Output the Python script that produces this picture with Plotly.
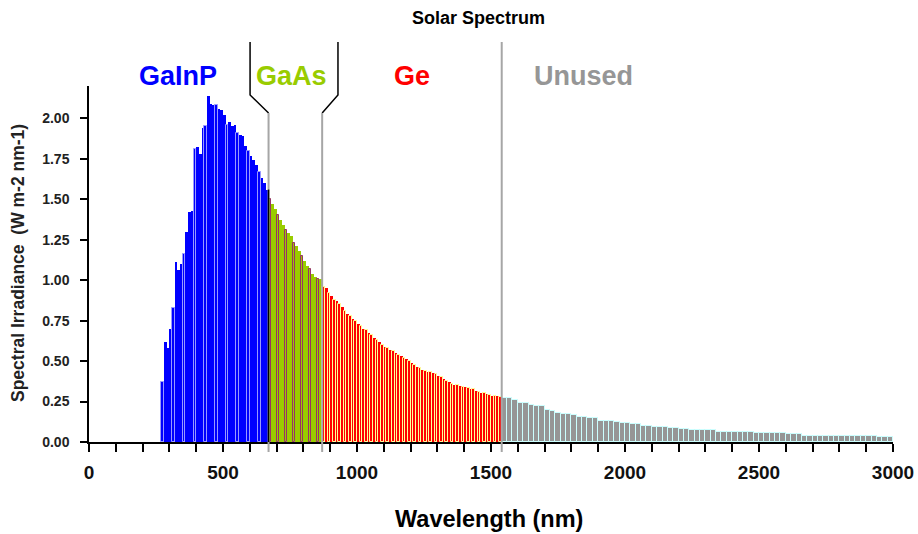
import plotly.graph_objects as go

# ---- data: bin start wavelength (nm) and spectral irradiance (W m-2 nm-1) ----
gainp_nm = list(range(270, 670, 10))
gainp_val = [0.37, 0.62, 0.58, 0.70, 0.83, 1.11, 1.06, 1.10, 1.16, 1.30,
             1.42, 1.43, 1.81, 1.82, 1.78, 1.94, 1.95, 2.14, 2.09, 2.08,
             2.08, 2.06, 2.05, 2.02, 1.96, 1.98, 1.95, 1.96, 1.91, 1.90,
             1.89, 1.83, 1.80, 1.77, 1.74, 1.71, 1.67, 1.63, 1.60, 1.56]

gaas_nm = list(range(670, 870, 10))
gaas_val = [1.50, 1.47, 1.44, 1.40, 1.37, 1.34, 1.31, 1.29, 1.27, 1.23,
            1.21, 1.18, 1.15, 1.12, 1.09, 1.07, 1.04, 1.02, 1.01, 1.01]

ge_nm = list(range(870, 1540, 10))
ge_val = [0.96, 0.95, 0.92, 0.90, 0.88, 0.87, 0.85, 0.835, 0.81, 0.79,
          0.78, 0.76, 0.745, 0.73, 0.715, 0.70, 0.69, 0.675, 0.66, 0.645,
          0.63, 0.615, 0.60, 0.59, 0.58, 0.57, 0.56, 0.55, 0.54, 0.53,
          0.52, 0.51, 0.50, 0.49, 0.475, 0.465, 0.455, 0.445, 0.44, 0.435,
          0.435, 0.425, 0.42, 0.41, 0.40, 0.39, 0.38, 0.37, 0.36, 0.355,
          0.35, 0.346, 0.343, 0.34, 0.335, 0.33, 0.325, 0.318, 0.31, 0.305,
          0.30, 0.296, 0.29, 0.284, 0.284, 0.284, 0.28]

unused_nm = list(range(1540, 3000, 20))
unused_val = [0.27, 0.27, 0.26, 0.24, 0.24, 0.23, 0.22, 0.22, 0.20, 0.19,
              0.18, 0.173, 0.173, 0.165, 0.156, 0.156, 0.146, 0.146, 0.13, 0.13,
              0.13, 0.125, 0.12, 0.12, 0.11, 0.11, 0.099, 0.099, 0.095, 0.095,
              0.095, 0.085, 0.085, 0.08, 0.08, 0.074, 0.074, 0.074, 0.074, 0.074,
              0.064, 0.064, 0.06, 0.06, 0.06, 0.06, 0.06, 0.054, 0.054, 0.054,
              0.054, 0.054, 0.054, 0.05, 0.05, 0.05, 0.04, 0.04, 0.04, 0.04,
              0.04, 0.04, 0.04, 0.04, 0.04, 0.04, 0.04, 0.04, 0.04, 0.04,
              0.028, 0.028, 0.028]

band_labels = ["GaInP", "GaAs", "Ge", "Unused"]
band_edges = [670, 870, 1540]   # cell cut-off wavelengths (nm)

x_ticks = [0, 500, 1000, 1500, 2000, 2500, 3000]
y_ticks = [0.0, 0.25, 0.5, 0.75, 1.0, 1.25, 1.5, 1.75, 2.0]

# ---- styling ----
FONT = "Liberation Sans, Arial, sans-serif"
bands = [
    (gainp_nm, gainp_val, 10, "#0000FF", "#9999FF", 4),
    (gaas_nm, gaas_val, 10, "#99CC00", "#993366", 3),
    (ge_nm, ge_val, 10, "#FF0000", "#FFFF99", 2),
    (unused_nm, unused_val, 20, "#969696", "#CCFFFF", 1),
]

fig = go.Figure()
for (nm, val, w, fill, edge, every), name in zip(bands, band_labels):
    lw = [1 if i % every == 0 else 0 for i in range(len(nm))]
    fig.add_trace(go.Bar(
        x=nm, y=val, width=w, offset=0, name=name,
        marker=dict(color=fill, line=dict(color=edge, width=lw)),
        showlegend=False, hoverinfo="x+y",
    ))

# plot-area geometry helpers (pixel -> paper)
L, R, T, B = 89, 25, 86, 92
W, H = 918, 534
pw, ph = W - L - R, H - T - B
def px(x):
    return (x - L) / pw
def py(y):
    return (H - B - y) / ph

shapes = []
black = dict(color="black", width=1.5)
grey = dict(color="#A6A6A6", width=2)
# left bracket (GaInP | GaAs)
shapes.append(dict(type="path", xref="x", yref="paper", layer="above",
                   path=f"M 601 {py(42)} L 601 {py(95)} L {band_edges[0]} {py(113)}",
                   line=black))
# right bracket (GaAs | Ge)
shapes.append(dict(type="path", xref="x", yref="paper", layer="above",
                   path=f"M 929 {py(42)} L 929 {py(95)} L {band_edges[1]} {py(113)}",
                   line=black))
for e, top in zip(band_edges, [113, 113, 42]):
    shapes.append(dict(type="line", xref="x", yref="paper", layer="above",
                       x0=e, x1=e, y0=py(top), y1=py(452), line=grey))
# black edge at GaInP/GaAs boundary inside the bars
shapes.append(dict(type="line", xref="x", yref="y", layer="above",
                   x0=band_edges[0], x1=band_edges[0], y0=0,
                   y1=max(gainp_val[-1], gaas_val[0]),
                   line=dict(color="black", width=1.5)))

annotations = [
    dict(text="<b>Solar Spectrum</b>", x=px(478), y=py(18), font=dict(size=18, color="black")),
    dict(text="<b>GaInP</b>", x=px(178), y=py(76), font=dict(size=27, color="#0000FF")),
    dict(text="<b>GaAs</b>", x=px(291), y=py(76), font=dict(size=27, color="#99CC00")),
    dict(text="<b>Ge</b>", x=px(412), y=py(76), font=dict(size=27, color="#FF0000")),
    dict(text="<b>Unused</b>", x=px(583), y=py(76), font=dict(size=27, color="#969696")),
    dict(text="<b>Wavelength (nm)</b>", x=px(489), y=py(519), font=dict(size=23.5, color="black")),
    dict(text="<b>Spectral Irradiance  (W m-2 nm-1)</b>", x=px(18), y=py(263),
         textangle=-90, font=dict(size=17.5, color="#222222")),
]
for a in annotations:
    a.update(xref="paper", yref="paper", showarrow=False, xanchor="center", yanchor="middle")
    a["font"]["family"] = FONT

fig.update_layout(
    width=W, height=H,
    margin=dict(l=L, r=R, t=T, b=B, pad=0, autoexpand=False),
    paper_bgcolor="white", plot_bgcolor="white",
    bargap=0, barmode="overlay",
    font=dict(family=FONT, color="black"),
    shapes=shapes, annotations=annotations,
)
fig.update_xaxes(
    range=[0, 3000], tickvals=x_ticks, ticktext=[str(t) for t in x_ticks],
    ticks="outside", ticklen=8, tickwidth=1.5, tickcolor="black",
    minor=dict(dtick=100, tick0=0, ticks="outside", ticklen=8, tickwidth=1.5, tickcolor="black"),
    showline=True, linecolor="black", linewidth=1.5, showgrid=False, zeroline=False,
    tickfont=dict(size=19, family=FONT, color="#111111", weight="bold"),
    ticklabelstandoff=4, automargin=False,
)
fig.update_yaxes(
    range=[0, 2.2], tickvals=y_ticks, tickformat=".2f",
    ticks="outside", ticklen=7, tickwidth=1.5, tickcolor="black",
    showline=True, linecolor="black", linewidth=1.5, showgrid=False, zeroline=False,
    tickfont=dict(size=14, family=FONT, color="#222222", weight="bold"),
    ticklabelstandoff=8, automargin=False,
)

fig.write_html("out.html", config={"displayModeBar": False},
               post_script="document.body.style.margin='0';document.body.style.padding='0';")
